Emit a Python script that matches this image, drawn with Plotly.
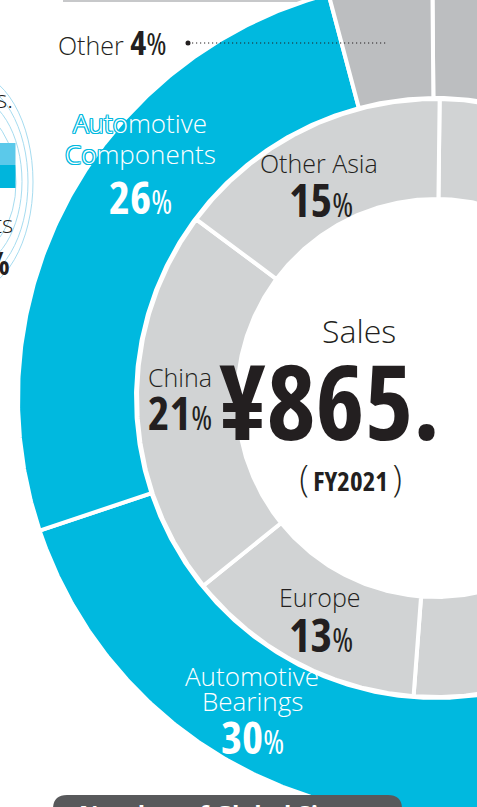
import numpy as np
import plotly.graph_objects as go

# ---------------- data ----------------
business_labels = ["Industrial Machinery", "Automotive Bearings", "Automotive Components", "Other"]
business_share = [40, 30, 26, 4]
region_labels = ["Japan", "Americas", "Europe", "China", "Other Asia"]
region_share = [33, 18, 13, 21, 15]
sales_title = "Sales"
sales_value = "¥865."
fiscal_year = "FY2021"

# ---------------- style ----------------
CYAN = "#00b9df"
OTHER_GRAY = "#bcbec0"
REGION_GRAY = "#d1d3d4"
INK = "#231f20"
business_colors = [OTHER_GRAY, CYAN, CYAN, OTHER_GRAY]
region_colors = [REGION_GRAY] * len(region_labels)

SANS = "Open Sans, Noto Sans, sans-serif"
COND = "font-family:'Open Sans','Roboto Condensed',sans-serif;font-stretch:75%;"

W, H = 477, 807
CX, CY = 436, 398
SEP = 4
OUTER_R = (302, 416)
INNER_R = (201, 297)
OUTER_START = -0.5
INNER_START = 0.7


def ring_traces(labels, shares, colors, radii, start):
    r0 = radii[0] - SEP / 2
    r1 = radii[1] + SEP / 2
    total = float(sum(shares))
    edges = start + np.concatenate([[0], np.cumsum(shares)]) / total * 360.0
    traces = []
    for lab, val, col, a0, a1 in zip(labels, shares, colors, edges[:-1], edges[1:]):
        n = max(int((a1 - a0) * 3), 12)
        t = np.radians(np.linspace(a0, a1, n))
        xs = np.concatenate([CX + r1 * np.sin(t), CX + r0 * np.sin(t[::-1]), [CX + r1 * np.sin(t[0])]])
        ys = np.concatenate([CY - r1 * np.cos(t), CY - r0 * np.cos(t[::-1]), [CY - r1 * np.cos(t[0])]])
        traces.append(go.Scatter(
            x=xs, y=ys, mode="lines", fill="toself", fillcolor=col,
            line=dict(color="white", width=SEP), name=lab,
            hoveron="fills", hoverinfo="text", text=f"{lab}: {val}%",
        ))
    return traces


fig = go.Figure()
for tr in ring_traces(business_labels, business_share, business_colors, OUTER_R, OUTER_START):
    fig.add_trace(tr)
for tr in ring_traces(region_labels, region_share, region_colors, INNER_R, INNER_START):
    fig.add_trace(tr)


def ann(text, x, y, size, color=INK, xanchor="center", yanchor="middle", weight=350, shadow=None):
    font = dict(family=SANS, size=size, color=color, weight=weight)
    if shadow:
        font["shadow"] = shadow
    return dict(text=text, x=x, y=y, xref="x", yref="y", showarrow=False,
                xanchor=xanchor, yanchor=yanchor, font=font)


def cond(text, size, weight=700):
    return f"<span style=\"{COND}font-weight:{weight};font-size:{size}px\">{text}</span>"


def pct(v, num_size, pct_size):
    return cond(v, num_size, 700) + cond("%", pct_size, 400)


outline = ", ".join(f"{dx}px {dy}px 0 {CYAN}" for dx, dy in
                    [(1, 0), (-1, 0), (0, 1), (0, -1), (1, 1), (-1, -1), (1, -1), (-1, 1)])

annotations = []
# Automotive Components
w1, w2 = business_labels[2].split(" ")
annotations += [
    ann(w1, 140, 123, 26, "white", shadow=outline),
    ann(w2, 140, 154, 26, "white", shadow=outline),
    ann(pct(business_share[2], 45, 32), 140, 196, 45, "white"),
]
# Automotive Bearings
w1, w2 = business_labels[1].split(" ")
annotations += [
    ann(w1, 252, 676, 26, "white"),
    ann(w2, 252, 700.5, 26, "white"),
    ann(pct(business_share[1], 45, 32), 252.5, 736, 45, "white"),
]
# Other
annotations.append(ann(
    f"{business_labels[3]} " + cond(business_share[3], 34, 700) + cond("%", 31, 400),
    56, 42, 25, xanchor="left"))
# Regions
annotations += [
    ann(region_labels[4], 319, 162.5, 25),
    ann(pct(region_share[4], 46, 32), 320.5, 198.5, 46),
    ann(region_labels[3], 179.5, 376.5, 25),
    ann(pct(region_share[3], 46, 32), 179.5, 412, 46),
    ann(region_labels[2], 320, 597, 25),
    ann(pct(region_share[2], 46, 32), 320.5, 633.5, 46),
]
# Center
annotations += [
    ann(sales_title, 359, 330, 32),
    ann(cond(sales_value, 104, 700), 329, 399.5, 104),
    ann(cond("(", 36, 300) + "\u2009" + cond(fiscal_year, 27, 700) + "\u2009" + cond(")", 36, 300),
        350.5, 477.5, 27),
]
# cropped neighbouring content on the left / bottom
annotations += [
    ann("s.", 15, 98, 24, xanchor="right"),
    ann("ts", 15, 223, 24, xanchor="right"),
    ann(cond("%", 32, 700), 12, 262, 32, xanchor="right"),
    ann("Number of Global Sites", 77, 794.5, 24, "white", xanchor="left", yanchor="top", weight=700),
]

shapes = []
# top rule
shapes.append(dict(type="rect", xref="x", yref="y", x0=63, x1=392, y0=-2, y1=2,
                   fillcolor="#c7c8ca", line=dict(width=0), layer="below"))
# leader for "Other"
shapes.append(dict(type="line", xref="x", yref="y", x0=188, x1=388, y0=43, y1=43,
                   line=dict(color=INK, width=1.2, dash="1.2px,2.8px")))
shapes.append(dict(type="circle", xref="x", yref="y", x0=185.5, x1=190.5, y0=40.5, y1=45.5,
                   fillcolor=INK, line=dict(width=0)))
# left illustration fragments
for (a, b, c, d) in [(-95, 33, 72, 292), (-90, 28, 82, 282), (-84, 22, 95, 268), (-78, 16, 110, 255)]:
    shapes.append(dict(type="circle", xref="x", yref="y", x0=a, x1=b, y0=c, y1=d,
                       line=dict(color="#a6dcf0", width=1), layer="below"))
shapes.append(dict(type="rect", xref="x", yref="y", x0=-5, x1=15.5, y0=143, y1=165,
                   fillcolor="#5bc9ea", line=dict(width=0)))
shapes.append(dict(type="rect", xref="x", yref="y", x0=-5, x1=15.5, y0=165, y1=188,
                   fillcolor="#00b5dc", line=dict(width=0)))
# bottom dark box
x0, x1, y0, y1, r = 53, 402, 795, 830, 14
shapes.append(dict(type="path", xref="x", yref="y",
                   path=f"M {x0 + r},{y0} L {x1 - r},{y0} Q {x1},{y0} {x1},{y0 + r} L {x1},{y1} "
                        f"L {x0},{y1} L {x0},{y0 + r} Q {x0},{y0} {x0 + r},{y0} Z",
                   fillcolor="#58595b", line=dict(width=0)))

fig.update_layout(
    width=W, height=H,
    margin=dict(l=0, r=0, t=0, b=0),
    paper_bgcolor="white", plot_bgcolor="white",
    showlegend=False,
    xaxis=dict(range=[0, W], visible=False, fixedrange=True),
    yaxis=dict(range=[H, 0], visible=False, fixedrange=True),
    annotations=annotations,
    shapes=shapes,
)

fig.write_html("out.html", config={"displayModeBar": False},
               post_script="document.body.style.margin='0';document.body.style.overflow='hidden';")
